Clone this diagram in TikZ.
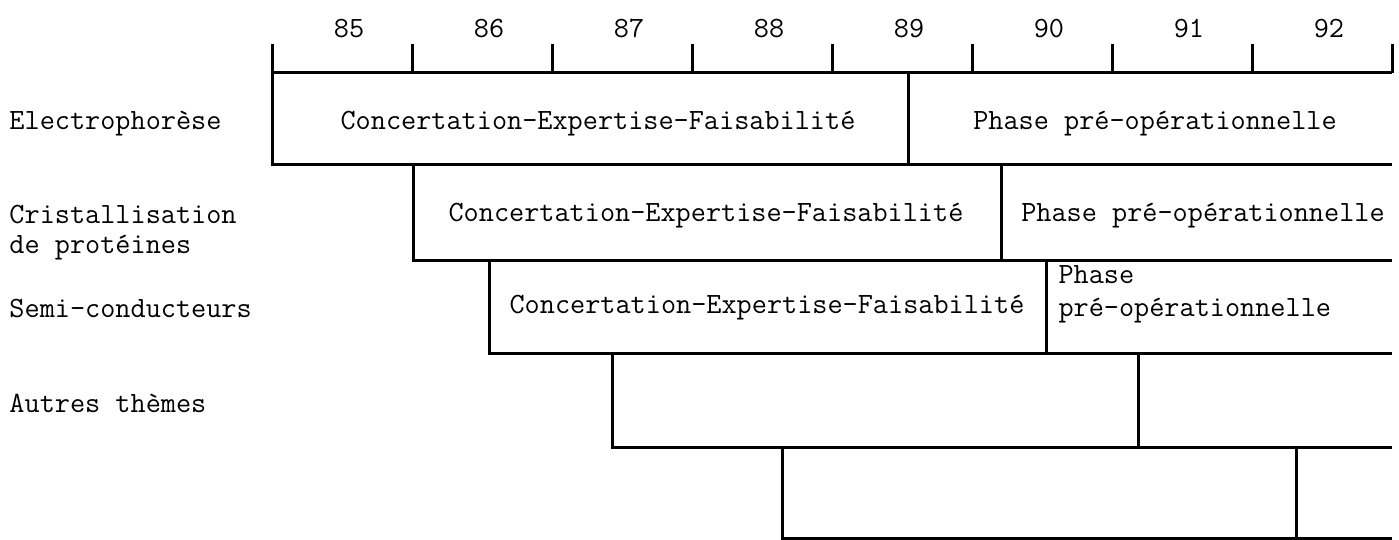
\documentclass[tikz,border=0pt]{standalone}
\begin{document}
\begin{tikzpicture}[x=0.5pt, y=-0.5pt, line width=1.5pt,
  lbl/.style={font=\ttfamily\fontsize{14.7}{17}\selectfont, inner sep=0pt, anchor=base}]
\useasboundingbox (0,0) rectangle (1399,540);
% years and ticks
\foreach \yr [count=\i from 0] in {85,...,92}
  \node[lbl] (y\yr) at (349+140*\i,38) {\yr};
\foreach \i in {0,...,8}
  \draw (272+140*\i,44) -- (272+140*\i,73);

% rows
\draw (1392,73) -- (272,73) -- (272,165) -- (1392,165);
\draw (908,73) -- (908,165);
\draw (413,165) -- (413,260) -- (1392,260);
\draw (1001,165) -- (1001,260);
\draw (489,260) -- (489,353) -- (1392,353);
\draw (1046,260) -- (1046,353);
\draw (612,353) -- (612,447) -- (1392,447);
\draw (1138,353) -- (1138,447);
\draw (782,447) -- (782,538) -- (1392,538);
\draw (1296,447) -- (1296,538);

% themes
\node[lbl, anchor=base west] (electro) at (8,130) {Electrophorèse};
\node[lbl, anchor=base west] (cristal) at (8,223) {Cristallisation};
\node[lbl, anchor=base west] (proteines) at (8,253) {de protéines};
\node[lbl, anchor=base west] (semi) at (8,317) {Semi-conducteurs};
\node[lbl, anchor=base west] (autres) at (8,412) {Autres thèmes};

% phases
\node[lbl] (cef1) at (598,130) {Concertation-Expertise-Faisabilité};
\node[lbl] (ppo1) at (1155,130) {Phase pré-opérationnelle};
\node[lbl] (cef2) at (706,221) {Concertation-Expertise-Faisabilité};
\node[lbl] (ppo2) at (1203,221) {Phase pré-opérationnelle};
\node[lbl] (cef3) at (767,314) {Concertation-Expertise-Faisabilité};
\node[lbl, anchor=base west] (ppo3a) at (1057,284) {Phase};
\node[lbl, anchor=base west] (ppo3b) at (1057,316) {pré-opérationnelle};
\end{tikzpicture}
\end{document}
